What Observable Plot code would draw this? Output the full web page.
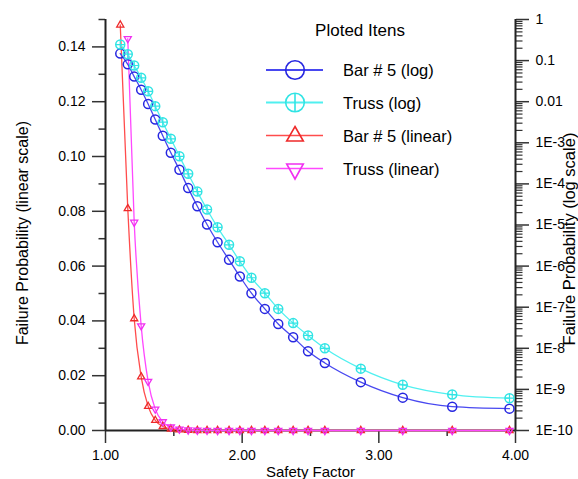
<!DOCTYPE html>
<html><head><meta charset="utf-8">
<script src="https://cdn.jsdelivr.net/npm/d3@7"></script>
<script src="https://cdn.jsdelivr.net/npm/@observablehq/plot@0.6"></script>
<style>
html,body{margin:0;padding:0;background:#fff;}
#chart{position:relative;width:578px;height:479px;overflow:hidden;font-family:"Liberation Sans",Arial,sans-serif;}
#chart svg{position:absolute;left:0;top:0;}
</style></head><body><div id="chart"></div>
<script>
// ---- data ----
const safetyFactor = [1.108, 1.163, 1.210, 1.261, 1.312, 1.364, 1.419, 1.478, 1.541, 1.605, 1.672, 1.743, 1.820, 1.904, 1.983, 2.068, 2.166, 2.264, 2.373, 2.482, 2.605, 2.868, 3.175, 3.537, 3.956];
const barFailure = [0.148, 0.081, 0.0408, 0.0196, 0.0088, 0.0037, 0.00148, 5.7e-4, 2.2e-4, 7.9e-5, 2.86e-5, 1.03e-5, 3.8e-6, 1.42e-6, 5.6e-7, 2.19e-7, 9.1e-8, 3.9e-8, 1.86e-8, 8.5e-9, 4.4e-9, 1.5e-9, 6.3e-10, 3.8e-10, 3.4e-10];
const trussFailure = [0.246, 0.143, 0.076, 0.0382, 0.0179, 0.0078, 0.00317, 1.25e-3, 4.7e-4, 1.76e-4, 6.5e-5, 2.38e-5, 8.8e-6, 3.3e-6, 1.31e-6, 5.2e-7, 2.19e-7, 9.1e-8, 4.1e-8, 2.05e-8, 1.0e-8, 3.2e-9, 1.29e-9, 7.5e-10, 6.1e-10];
const seriesNames = ["Bar # 5 (log)", "Truss (log)", "Bar # 5 (linear)", "Truss (linear)"];
const legendTitle = "Ploted Itens";
const xTicks = [1, 2, 3, 4];
const xTickLabels = ["1.00", "2.00", "3.00", "4.00"];
const xMinorTicks = [1.5, 2.5, 3.5];
const linearTicks = [0, 0.02, 0.04, 0.06, 0.08, 0.10, 0.12, 0.14];
const linearTickLabels = ["0.00", "0.02", "0.04", "0.06", "0.08", "0.10", "0.12", "0.14"];
const linearMinorTicks = [0.01, 0.03, 0.05, 0.07, 0.09, 0.11, 0.13, 0.15];
const logTicks = [1, 0.1, 0.01, 1e-3, 1e-4, 1e-5, 1e-6, 1e-7, 1e-8, 1e-9, 1e-10];
const logTickLabels = ["1", "0.1", "0.01", "1E-3", "1E-4", "1E-5", "1E-6", "1E-7", "1E-8", "1E-9", "1E-10"];
const xLabel = "Safety Factor";
const yLeftLabel = "Failure Probability (linear scale)";
const yRightLabel = "Failure Probability (log scale)";

// ---- build tables ----
const bar = safetyFactor.map((x, i) => ({x, v: barFailure[i]}));
const truss = safetyFactor.map((x, i) => ({x, v: trussFailure[i]}));
const logMinorTicks = [];
for (let k = -10; k < 0; k++) for (let m = 2; m <= 9; m++) logMinorTicks.push(m * Math.pow(10, k));

const COL = {
  blue: "#2626e0", blueLine: "#4848f0",
  cyan: "#30e4e4", cyanLine: "#50f0f0",
  red: "#ee2a2a", redLine: "#ff4c4c",
  mag: "#f030f0", magLine: "#ff48ff"
};
const FONT = '"Liberation Sans", Arial, sans-serif';
const W = 578, H = 479;
const M = {top: 19, right: 63, bottom: 49, left: 105};
const LIN_MAX = 0.15;

const common = {
  width: W, height: H,
  marginTop: M.top, marginRight: M.right, marginBottom: M.bottom, marginLeft: M.left,
  style: {fontFamily: FONT, fontSize: "14px", color: "#000", background: "transparent", overflow: "visible"}
};

// ---- linear plot (left axis) ----
const linPlot = Plot.plot({
  ...common,
  x: {domain: [1, 4]},
  y: {domain: [0, LIN_MAX]},
  marks: [
    Plot.axisX({ticks: xTicks, tickSize: 13, tickPadding: 7, tickFormat: d => xTickLabels[xTicks.indexOf(d)], label: null, fontSize: 14, stroke: "#333", strokeWidth: 1.5}),
    Plot.axisX({ticks: xMinorTicks, tickSize: 6, tickFormat: () => "", label: null, stroke: "#333", strokeWidth: 1.5}),
    Plot.axisY({ticks: linearTicks, tickSize: 13, tickPadding: 7, tickFormat: d => linearTickLabels[linearTicks.indexOf(d)], label: null, fontSize: 14, stroke: "#333", strokeWidth: 1.5}),
    Plot.axisY({ticks: linearMinorTicks, tickSize: 6.5, tickFormat: () => "", label: null, stroke: "#333", strokeWidth: 1.5}),
    Plot.ruleX([1], {stroke: "#222", strokeWidth: 2}),
    Plot.ruleY([0], {stroke: "#222", strokeWidth: 2}),
    Plot.line(bar, {x: "x", y: "v", stroke: COL.redLine, strokeWidth: 1.3, curve: "monotone-x", filter: d => d.v <= LIN_MAX}),
    Plot.line(truss, {x: "x", y: "v", stroke: COL.magLine, strokeWidth: 1.3, curve: "monotone-x", filter: d => d.v <= LIN_MAX}),
    Plot.dot(bar, {x: "x", y: "v", symbol: "triangle2", r: 3.4, stroke: COL.red, strokeWidth: 1.3, filter: d => d.v <= LIN_MAX}),
    Plot.dot(truss, {x: "x", y: "v", symbol: "triangle2", rotate: 180, r: 3.4, stroke: COL.mag, strokeWidth: 1.3, filter: d => d.v <= LIN_MAX}),
    Plot.text([yLeftLabel], {frameAnchor: "left", textAnchor: "middle", lineAnchor: "middle", dx: -83, dy: 8, rotate: -90, fontSize: 16, fill: "#000"}),
    Plot.text([xLabel], {frameAnchor: "bottom", textAnchor: "middle", lineAnchor: "middle", dy: 42, fontSize: 15, fill: "#000"})
  ]
});

// ---- log plot (right axis) ----
const logPlot = Plot.plot({
  ...common,
  x: {domain: [1, 4], axis: null},
  y: {type: "log", domain: [1e-10, 1]},
  marks: [
    Plot.axisY({anchor: "right", ticks: logTicks, tickSize: 13, tickPadding: 7, tickFormat: d => logTickLabels[logTicks.indexOf(d)], label: null, fontSize: 14, stroke: "#333", strokeWidth: 1.5}),
    Plot.axisY({anchor: "right", ticks: logMinorTicks, tickSize: 6.5, tickFormat: () => "", label: null, stroke: "#333", strokeWidth: 1.2}),
    Plot.ruleX([4], {stroke: "#222", strokeWidth: 2}),
    Plot.line(bar, {x: "x", y: "v", stroke: COL.blueLine, strokeWidth: 1.3, curve: "monotone-x"}),
    Plot.line(truss, {x: "x", y: "v", stroke: COL.cyanLine, strokeWidth: 1.3, curve: "monotone-x"}),
    Plot.dot(bar, {x: "x", y: "v", r: 4.5, stroke: COL.blue, strokeWidth: 1.5}),
    Plot.dot(truss, {x: "x", y: "v", r: 4.5, stroke: COL.cyan, strokeWidth: 1.5}),
    Plot.dot(truss, {x: "x", y: "v", symbol: "plus", r: 2.9, stroke: COL.cyan, strokeWidth: 1.2}),
    Plot.text([yRightLabel], {frameAnchor: "right", textAnchor: "middle", lineAnchor: "middle", dx: 54, dy: 14, rotate: -90, fontSize: 16.5, fill: "#000"})
  ]
});

const chart = document.getElementById("chart");
chart.appendChild(linPlot);
chart.appendChild(logPlot);

// ---- legend ----
const leg = d3.select(chart).append("svg")
  .attr("width", W).attr("height", H)
  .style("pointer-events", "none")
  .style("font-family", FONT);
leg.append("text").attr("x", 360).attr("y", 30).attr("text-anchor", "middle")
  .attr("dominant-baseline", "central").attr("font-size", 17).attr("fill", "#000").text(legendTitle);
const rows = [70, 102.5, 135.5, 168.5];
const lineCols = [COL.blueLine, COL.cyanLine, COL.redLine, COL.magLine];
const markCols = [COL.blue, COL.cyan, COL.red, COL.mag];
const lineW = [2, 2, 1.3, 1.3];
seriesNames.forEach((name, i) => {
  const y = rows[i];
  const g = leg.append("g");
  g.append("line").attr("x1", 266).attr("x2", 323).attr("y1", y).attr("y2", y)
    .attr("stroke", lineCols[i]).attr("stroke-width", lineW[i]);
  if (i < 2) {
    g.append("circle").attr("cx", 295).attr("cy", y).attr("r", 9.3)
      .attr("fill", "none").attr("stroke", markCols[i]).attr("stroke-width", 1.6);
    if (i === 1) g.append("line").attr("x1", 295).attr("x2", 295).attr("y1", y - 9.3).attr("y2", y + 9.3)
      .attr("stroke", markCols[i]).attr("stroke-width", 1.6);
  } else if (i === 2) {
    g.append("path").attr("d", `M295,${y - 9}L303.3,${y + 5.5}L286.7,${y + 5.5}Z`)
      .attr("fill", "none").attr("stroke", markCols[i]).attr("stroke-width", 1.6);
  } else {
    g.append("path").attr("d", `M286.7,${y - 4.5}L303.3,${y - 4.5}L295,${y + 10.5}Z`)
      .attr("fill", "none").attr("stroke", markCols[i]).attr("stroke-width", 1.6);
  }
  g.append("text").attr("x", 343).attr("y", y).attr("dominant-baseline", "central")
    .attr("font-size", 16.5).attr("fill", "#000").text(name);
});
</script>
</body></html>
